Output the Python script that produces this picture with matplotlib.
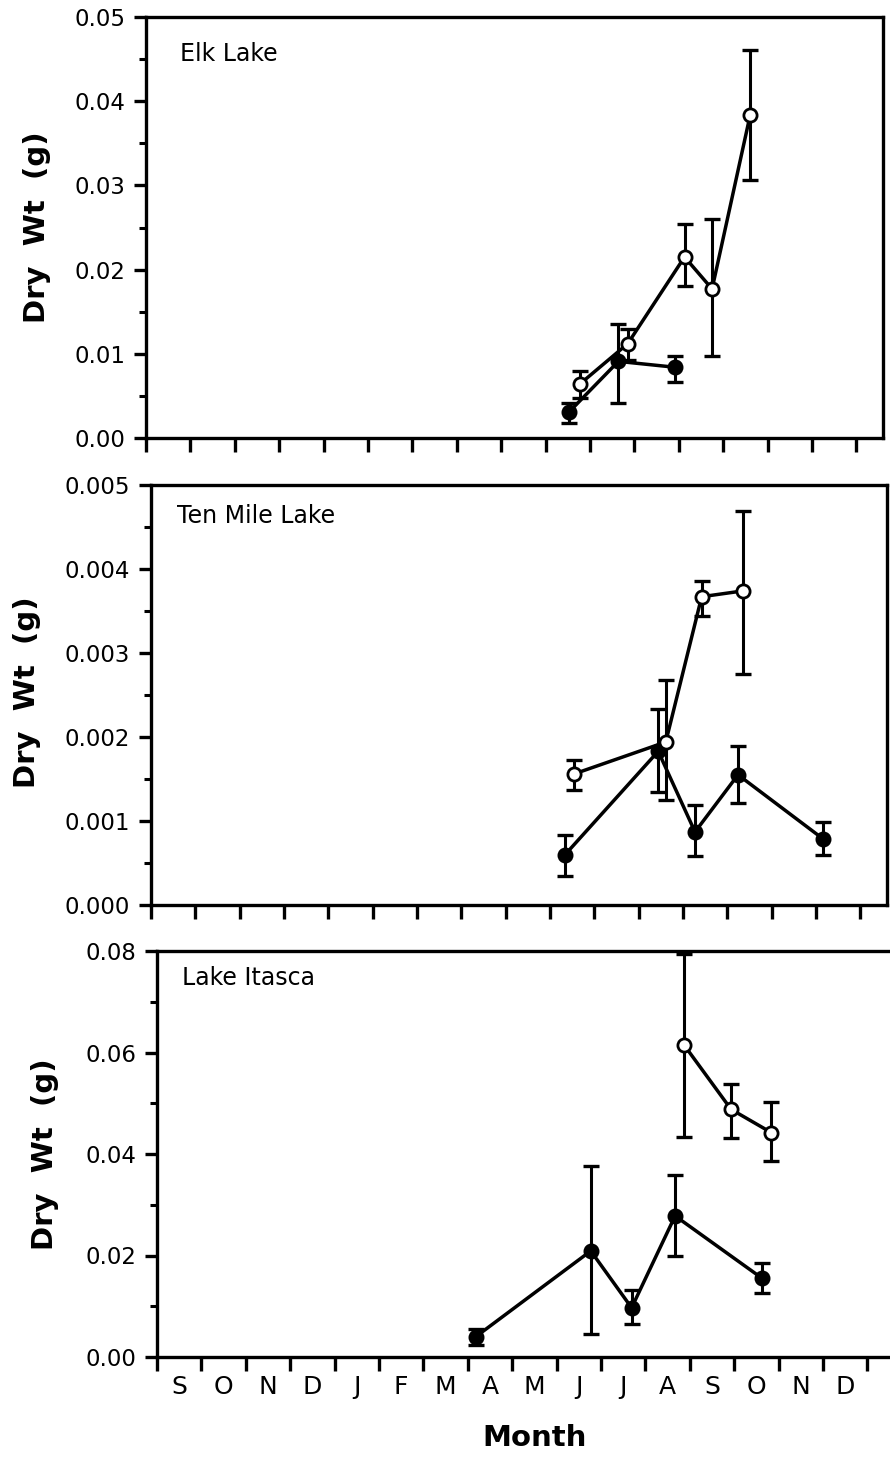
import numpy as np
import matplotlib
matplotlib.use("Agg")
import matplotlib.pyplot as plt
from matplotlib.ticker import MultipleLocator, FormatStrFormatter

plt.rcParams['font.family'] = ['DejaVu Sans']

# ------------------------------------------------------------
# data (x = months since start of September, y = dry weight g)
# ------------------------------------------------------------
months = ['S', 'O', 'N', 'D', 'J', 'F', 'M', 'A', 'M', 'J', 'J', 'A', 'S', 'O', 'N', 'D']

# Elk Lake
elk_fill_x = [9.53, 10.64, 11.92]
elk_fill_y = [0.0031, 0.0091, 0.0084]
elk_fill_lo = [0.0018, 0.0041, 0.0067]
elk_fill_hi = [0.0041, 0.0135, 0.0097]

elk_open_x = [9.77, 10.85, 12.13, 12.75, 13.61]
elk_open_y = [0.0064, 0.0112, 0.0215, 0.0177, 0.0384]
elk_open_lo = [0.0047, 0.0093, 0.0180, 0.0097, 0.0306]
elk_open_hi = [0.0080, 0.0130, 0.0254, 0.0260, 0.0461]

# Ten Mile Lake
ten_fill_x = [9.34, 11.44, 12.27, 13.24, 15.15]
ten_fill_y = [0.00060, 0.00183, 0.00087, 0.00155, 0.00079]
ten_fill_lo = [0.00034, 0.00134, 0.00058, 0.00122, 0.00059]
ten_fill_hi = [0.00083, 0.00233, 0.00119, 0.00189, 0.00099]

ten_open_x = [9.54, 11.61, 12.42, 13.36]
ten_open_y = [0.00156, 0.00194, 0.00367, 0.00374]
ten_open_lo = [0.00137, 0.00125, 0.00344, 0.00275]
ten_open_hi = [0.00173, 0.00268, 0.00386, 0.00469]

# Lake Itasca
ita_fill_x = [7.18, 9.77, 10.69, 11.67, 13.63]
ita_fill_y = [0.0040, 0.0209, 0.0097, 0.0278, 0.0155]
ita_fill_lo = [0.0024, 0.0045, 0.0065, 0.0199, 0.0126]
ita_fill_hi = [0.0055, 0.0377, 0.0132, 0.0359, 0.0186]

ita_open_x = [11.87, 12.93, 13.84]
ita_open_y = [0.0615, 0.0488, 0.0442]
ita_open_lo = [0.0434, 0.0431, 0.0386]
ita_open_hi = [0.0795, 0.0537, 0.0503]

W, H = 890, 1473
fig = plt.figure(figsize=(W / 100, H / 100), dpi=100)
fig.patch.set_facecolor('white')


def px_axes(left, right, top, bottom):
    return fig.add_axes([left / W, 1 - bottom / H, (right - left) / W, (bottom - top) / H])


def draw_series(ax, x, y, lo, hi, filled):
    y = np.array(y)
    err = [y - np.array(lo), np.array(hi) - y]
    ax.errorbar(x, y, yerr=err, fmt='none', ecolor='black', elinewidth=2.2,
                capsize=5.5, capthick=2.4, zorder=2, clip_on=False)
    ax.plot(x, y, color='black', linewidth=2.5, zorder=3,
            marker='o', markersize=9.5,
            markerfacecolor='black' if filled else 'white',
            markeredgecolor='black', markeredgewidth=2.0)


def style_axes(ax, ymax, ystep, fmt, show_months=False):
    ax.set_xlim(0, 16.6)
    ax.set_ylim(0, ymax)
    for s in ax.spines.values():
        s.set_linewidth(2.4)
    ax.xaxis.set_major_locator(MultipleLocator(1))
    ax.yaxis.set_major_locator(MultipleLocator(ystep))
    ax.yaxis.set_minor_locator(MultipleLocator(ystep / 2))
    ax.yaxis.set_major_formatter(FormatStrFormatter(fmt))
    ax.tick_params(axis='x', which='major', direction='out', length=10, width=2.4,
                   labelbottom=False)
    ax.tick_params(axis='y', which='major', direction='out', length=9, width=2.4,
                   labelsize=16.5, pad=6)
    ax.tick_params(axis='y', which='minor', direction='out', length=5, width=2.2)
    ax.tick_params(top=False, right=False)
    if show_months:
        ax.set_xticks(np.arange(len(months)) + 0.5, minor=True)
        ax.set_xticklabels(months, minor=True, fontsize=18)
        ax.tick_params(axis='x', which='minor', length=0, pad=13)
    else:
        ax.tick_params(axis='x', which='minor', bottom=False)


# top panel: Elk Lake
ax1 = px_axes(146, 883, 17, 438)
draw_series(ax1, elk_fill_x, elk_fill_y, elk_fill_lo, elk_fill_hi, True)
draw_series(ax1, elk_open_x, elk_open_y, elk_open_lo, elk_open_hi, False)
style_axes(ax1, 0.05, 0.01, '%.2f')
fig.text(180 / W, 1 - 61 / H, 'Elk Lake', fontsize=17, va='baseline', ha='left')
fig.text(37 / W, 1 - 227 / H, 'Dry  Wt  (g)', fontsize=21, fontweight='bold',
         rotation=90, ha='center', va='center')

# middle panel: Ten Mile Lake
ax2 = px_axes(151, 887, 485, 905)
draw_series(ax2, ten_fill_x, ten_fill_y, ten_fill_lo, ten_fill_hi, True)
draw_series(ax2, ten_open_x, ten_open_y, ten_open_lo, ten_open_hi, False)
style_axes(ax2, 0.005, 0.001, '%.3f')
fig.text(177 / W, 1 - 523 / H, 'Ten Mile Lake', fontsize=17, va='baseline', ha='left')
fig.text(27 / W, 1 - 692 / H, 'Dry  Wt  (g)', fontsize=21, fontweight='bold',
         rotation=90, ha='center', va='center')

# bottom panel: Lake Itasca
ax3 = px_axes(157, 894, 951, 1357)
draw_series(ax3, ita_fill_x, ita_fill_y, ita_fill_lo, ita_fill_hi, True)
draw_series(ax3, ita_open_x, ita_open_y, ita_open_lo, ita_open_hi, False)
style_axes(ax3, 0.08, 0.02, '%.2f', show_months=True)
fig.text(182 / W, 1 - 985 / H, 'Lake Itasca', fontsize=17, va='baseline', ha='left')
fig.text(45 / W, 1 - 1154 / H, 'Dry  Wt  (g)', fontsize=21, fontweight='bold',
         rotation=90, ha='center', va='center')
fig.text(535 / W, 1 - 1438 / H, 'Month', fontsize=21, fontweight='bold',
         ha='center', va='center')

fig.savefig('out.png', dpi=100, facecolor='white')
